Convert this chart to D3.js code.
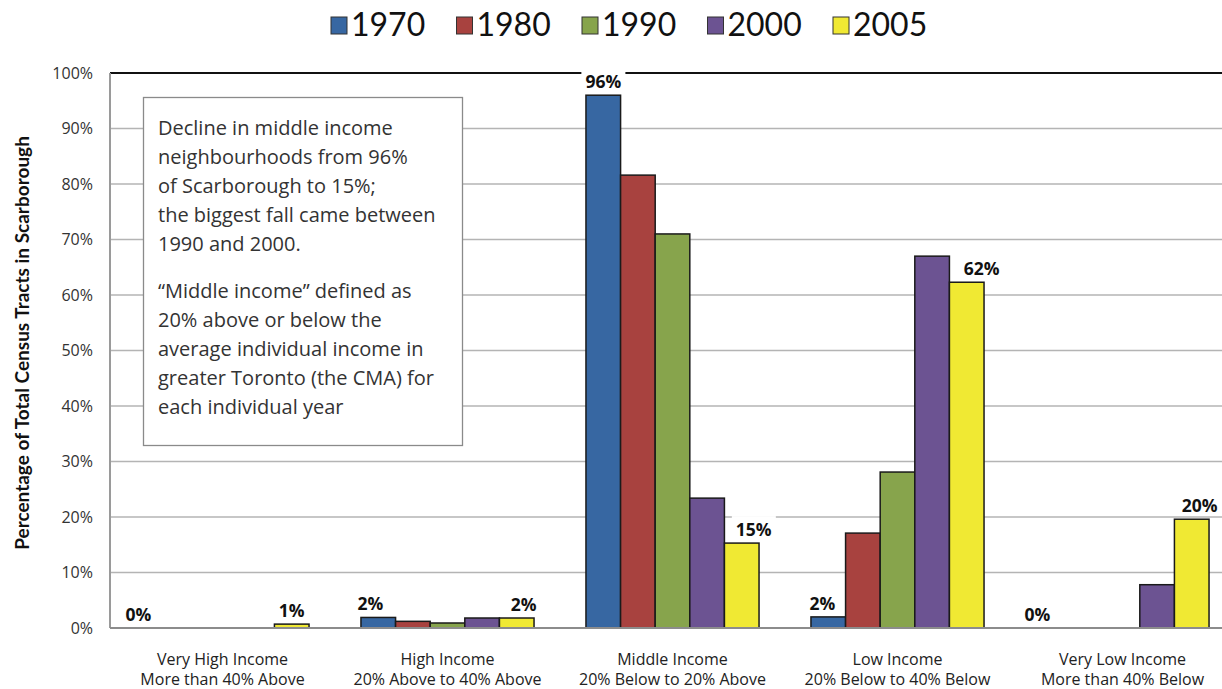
<!DOCTYPE html>
<html>
<head>
<meta charset="utf-8">
<script src="https://cdn.jsdelivr.net/npm/d3@7"></script>
<style>
  html, body { margin: 0; padding: 0; background: #fff; }
  svg { display: block; }
</style>
</head>
<body>
<svg id="chart" width="1222" height="689"></svg>
<script>
// Income groups (two-line axis labels)
const categories = [
  "Very High Income|More than 40% Above",
  "High Income|20% Above to 40% Above",
  "Middle Income|20% Below to 20% Above",
  "Low Income|20% Below to 40% Below",
  "Very Low Income|More than 40% Below"
];
const years = ["1970", "1980", "1990", "2000", "2005"];

// Share of census tracts (%) per income group, one array per year
const values1970 = [0, 1.9, 96, 2.0, 0];
const values1980 = [0, 1.2, 81.6, 17.1, 0];
const values1990 = [0, 0.9, 71.0, 28.1, 0];
const values2000 = [0, 1.8, 23.4, 67.0, 7.8];
const values2005 = [0.7, 1.8, 15.3, 62.3, 19.6];

const yTicks = [0, 10, 20, 30, 40, 50, 60, 70, 80, 90, 100];

const noteLines1 = [
  "Decline in middle income",
  "neighbourhoods from 96%",
  "of Scarborough to 15%;",
  "the biggest fall came between",
  "1990 and 2000."
];
const noteLines2 = [
  "\u201CMiddle income\u201D defined as",
  "20% above or below the",
  "average individual income in",
  "greater Toronto (the CMA) for",
  "each individual year"
];

const seriesValues = [values1970, values1980, values1990, values2000, values2005];
const colors = ["#3767a2", "#a8423f", "#87a44c", "#6c5392", "#f0e933"];

// labelled series: first and last year in every group
const labelledYears = ["1970", "2005"];
// hand-placed label nudges (px), [1970, 2005] per group
const labelNudge = [[-15, 0], [-8, 7], [0, 12], [-6, 15], [-16, 8]];

const svg = d3.select("#chart");
const plotLeft = 110, plotRight = 1235, plotTop = 73, plotBottom = 628;

const x0 = d3.scaleBand().domain(categories).range([plotLeft, plotRight]).padding(0);
const x1 = d3.scaleBand().domain(years).range([0, x0.bandwidth()]).paddingInner(0).paddingOuter(0.75);
const y = d3.scaleLinear().domain([0, 100]).range([plotBottom, plotTop]);
const color = d3.scaleOrdinal().domain(years).range(colors);

// gridlines
svg.append("g")
  .selectAll("line")
  .data(yTicks.filter(t => t > 0 && t < 100))
  .join("line")
  .attr("x1", plotLeft).attr("x2", 1222)
  .attr("y1", d => y(d)).attr("y2", d => y(d))
  .attr("stroke", "#b4b4b4").attr("stroke-width", 1.6);

// top border line
svg.append("line")
  .attr("x1", plotLeft).attr("x2", 1222)
  .attr("y1", y(100)).attr("y2", y(100))
  .attr("stroke", "#111").attr("stroke-width", 2);

// left axis line
svg.append("line")
  .attr("x1", plotLeft).attr("x2", plotLeft)
  .attr("y1", y(100)).attr("y2", y(0))
  .attr("stroke", "#9a9a9a").attr("stroke-width", 2);

// y axis tick labels
const yAxis = d3.axisLeft(y).tickValues(yTicks).tickFormat(d => d + "%").tickSize(0).tickPadding(17);
const yg = svg.append("g").attr("transform", `translate(${plotLeft},0)`).call(yAxis);
yg.select(".domain").remove();
yg.selectAll("text")
  .attr("font-family", "'Open Sans', sans-serif")
  .attr("font-size", 16)
  .attr("fill", "#333");

// y axis title
svg.append("text")
  .attr("transform", `translate(29,343) rotate(-90)`)
  .attr("text-anchor", "middle")
  .attr("font-family", "Lato, 'Open Sans', sans-serif")
  .attr("font-weight", "bold")
  .attr("font-size", 19)
  .attr("fill", "#111")
  .text("Percentage of Total Census Tracts in Scarborough");

// note box
const box = svg.append("g");
box.append("rect")
  .attr("x", 143.5).attr("y", 97.5).attr("width", 319).attr("height", 348)
  .attr("fill", "#fff").attr("stroke", "#8a8a8a").attr("stroke-width", 1.3);
const noteText = box.append("text")
  .attr("font-family", "'Open Sans', sans-serif")
  .attr("font-size", 20)
  .attr("fill", "#333");
noteLines1.forEach((t, i) => noteText.append("tspan").attr("x", 158).attr("y", 135 + i * 29).text(t));
noteLines2.forEach((t, i) => noteText.append("tspan").attr("x", 158).attr("y", 298 + i * 29).text(t));

// bars
const groups = svg.append("g")
  .selectAll("g")
  .data(categories)
  .join("g")
  .attr("transform", d => `translate(${x0(d)},0)`);

groups.selectAll("rect")
  .data((d, ci) => years.map((yr, si) => ({ yr, v: seriesValues[si][ci] })).filter(e => e.v > 0))
  .join("rect")
  .attr("x", d => x1(d.yr))
  .attr("y", d => y(d.v))
  .attr("width", x1.bandwidth())
  .attr("height", d => y(0) - y(d.v))
  .attr("fill", d => color(d.yr))
  .attr("stroke", "#1a1a1a")
  .attr("stroke-width", 1.5);

// bottom axis line
svg.append("line")
  .attr("x1", plotLeft).attr("x2", 1222)
  .attr("y1", y(0)).attr("y2", y(0))
  .attr("stroke", "#8c8c8c").attr("stroke-width", 2.2);

// value labels
groups.each(function (cat, ci) {
  const g = d3.select(this);
  labelledYears.forEach((yr, k) => {
    const si = years.indexOf(yr);
    const v = seriesValues[si][ci];
    const cx = x1(yr) + x1.bandwidth() / 2 + labelNudge[ci][k];
    const ty = y(v) - 7;
    const txt = Math.round(v) + "%";
    const lbl = g.append("g");
    const bg = lbl.append("rect").attr("fill", "#fff");
    const t = lbl.append("text")
      .attr("x", cx).attr("y", ty)
      .attr("text-anchor", "middle")
      .attr("font-family", "'Open Sans', sans-serif")
      .attr("font-weight", "bold")
      .attr("font-size", 17.5)
      .attr("fill", "#111")
      .text(txt);
    const bb = t.node().getBBox();
    bg.attr("x", bb.x - 4).attr("y", bb.y - 1).attr("width", bb.width + 8).attr("height", bb.height - 2);
  });
});

// category labels
const catLabels = svg.append("g");
categories.forEach(c => {
  const parts = c.split("|");
  const t = catLabels.append("text")
    .attr("text-anchor", "middle")
    .attr("font-family", "'Open Sans', sans-serif")
    .attr("font-size", 16)
    .attr("fill", "#222");
  parts.forEach((p, i) => t.append("tspan")
    .attr("x", x0(c) + x0.bandwidth() / 2)
    .attr("y", 665 + i * 20)
    .text(p));
});

// legend
const legend = svg.append("g");
const legX = d3.scalePoint().domain(years).range([331, 833]);
years.forEach(yr => {
  legend.append("rect")
    .attr("x", legX(yr)).attr("y", 17).attr("width", 16).attr("height", 17)
    .attr("fill", color(yr)).attr("stroke", "#333").attr("stroke-width", 1);
  legend.append("text")
    .attr("x", legX(yr) + 20).attr("y", 36)
    .attr("font-family", "Lato, 'Open Sans', sans-serif")
    .attr("font-size", 32)
    .attr("fill", "#111")
    .text(yr);
});
</script>
</body>
</html>
